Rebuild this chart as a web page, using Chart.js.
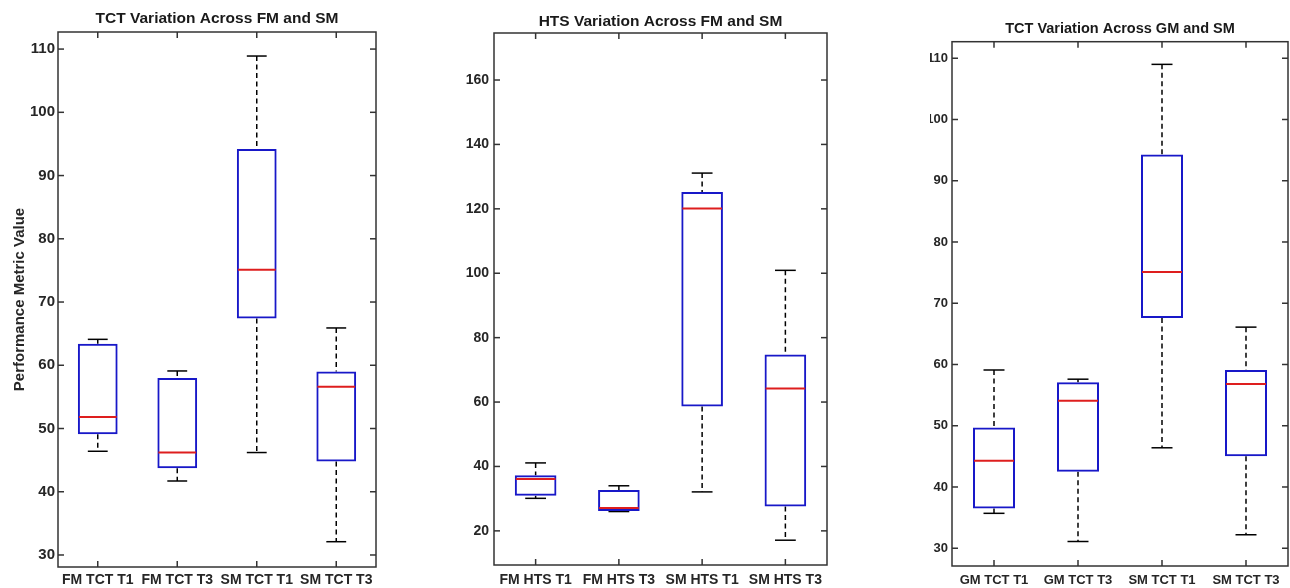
<!DOCTYPE html>
<html>
<head>
<meta charset="utf-8">
<script src="https://cdn.jsdelivr.net/npm/chart.js@4.4.1/dist/chart.umd.min.js"></script>
<style>
  body { margin: 0; background: #fff; width: 1290px; height: 588px; overflow: hidden; position: relative; }
  .panel { position: absolute; top: 0; }
</style>
</head>
<body>
<div class="panel" style="left:0"><canvas id="tctFm" width="386" height="588"></canvas></div>
<div class="panel" style="left:440px"><canvas id="htsFm" width="396" height="588"></canvas></div>
<div class="panel" style="left:930px"><canvas id="tctGm" width="360" height="588"></canvas></div>
<script>
// TCT, FM vs SM
const tctFmLabels = ['FM TCT T1', 'FM TCT T3', 'SM TCT T1', 'SM TCT T3'];
const tctFmMin    = [46.4, 41.7, 46.2, 32.1];
const tctFmQ1     = [49.1, 43.7, 67.4, 44.8];
const tctFmMedian = [51.8, 46.2, 75.1, 56.6];
const tctFmQ3     = [63.4, 58.0, 94.2, 59.0];
const tctFmMax    = [64.1, 59.1, 108.9, 65.9];
const tctFmTicks  = [30, 40, 50, 60, 70, 80, 90, 100, 110];

// HTS, FM vs SM
const htsFmLabels = ['FM HTS T1', 'FM HTS T3', 'SM HTS T1', 'SM HTS T3'];
const htsFmMin    = [30.1, 26.0, 32.1, 17.1];
const htsFmQ1     = [30.9, 26.2, 58.6, 27.6];
const htsFmMedian = [36.1, 27.1, 120.1, 64.2];
const htsFmQ3     = [37.3, 32.7, 125.2, 74.8];
const htsFmMax    = [41.1, 34.0, 131.1, 100.9];
const htsFmTicks  = [20, 40, 60, 80, 100, 120, 140, 160];

// TCT, GM vs SM
const tctGmLabels = ['GM TCT T1', 'GM TCT T3', 'SM TCT T1', 'SM TCT T3'];
const tctGmMin    = [35.7, 31.1, 46.4, 32.2];
const tctGmQ1     = [36.5, 42.5, 67.6, 45.0];
const tctGmMedian = [44.3, 54.1, 75.1, 56.8];
const tctGmQ3     = [49.7, 57.1, 94.3, 59.1];
const tctGmMax    = [59.1, 57.6, 109.0, 66.1];
const tctGmTicks  = [30, 40, 50, 60, 70, 80, 90, 100, 110];

Chart.defaults.font.family = 'Arial, "Liberation Sans", sans-serif';
Chart.defaults.color = '#262626';

function seg(ctx, x1, y1, x2, y2) {
  ctx.beginPath();
  ctx.moveTo(x1, y1);
  ctx.lineTo(x2, y2);
  ctx.stroke();
}

// whiskers, medians and the matlab style frame with inward ticks
function boxPlugin(s) {
  return {
    id: 'boxPlot',
    beforeDatasetsDraw(chart) {
      const { ctx, scales: { x, y } } = chart;
      const bars = chart.getDatasetMeta(0).data;
      ctx.save();
      ctx.strokeStyle = '#000';
      ctx.lineWidth = 1.5;
      s.min.forEach((v, i) => {
        const px = x.getPixelForValue(i);
        const cap = bars[i].width / 4;
        ctx.setLineDash([5, 3.5]);
        seg(ctx, px, y.getPixelForValue(s.max[i]), px, y.getPixelForValue(s.q3[i]));
        seg(ctx, px, y.getPixelForValue(s.q1[i]), px, y.getPixelForValue(v));
        ctx.setLineDash([]);
        seg(ctx, px - cap, y.getPixelForValue(s.max[i]), px + cap, y.getPixelForValue(s.max[i]));
        seg(ctx, px - cap, y.getPixelForValue(v), px + cap, y.getPixelForValue(v));
      });
      ctx.restore();
    },
    afterDatasetsDraw(chart) {
      const { ctx, scales: { x, y } } = chart;
      const bars = chart.getDatasetMeta(0).data;
      ctx.save();
      ctx.strokeStyle = 'rgb(222,30,30)';
      ctx.lineWidth = 2;
      s.median.forEach((v, i) => {
        const px = x.getPixelForValue(i);
        const half = bars[i].width / 2 - 1;
        seg(ctx, px - half, y.getPixelForValue(v), px + half, y.getPixelForValue(v));
      });
      ctx.restore();
    },
    afterDraw(chart) {
      const { ctx, chartArea: a, scales: { x, y } } = chart;
      ctx.save();
      ctx.strokeStyle = '#333';
      ctx.lineWidth = 1.5;
      ctx.strokeRect(a.left, a.top, a.right - a.left, a.bottom - a.top);
      const t = 6;
      y.ticks.forEach(tk => {
        const py = y.getPixelForValue(tk.value);
        seg(ctx, a.left, py, a.left + t, py);
        seg(ctx, a.right - t, py, a.right, py);
      });
      s.min.forEach((v, i) => {
        const px = x.getPixelForValue(i);
        seg(ctx, px, a.bottom, px, a.bottom - t);
        seg(ctx, px, a.top, px, a.top + t);
      });
      ctx.restore();
    }
  };
}

function makeBoxChart(id, p) {
  new Chart(document.getElementById(id), {
    type: 'bar',
    data: {
      labels: p.labels,
      datasets: [{
        data: p.q1.map((v, i) => [v, p.q3[i]]),
        backgroundColor: 'rgba(255,255,255,0)',
        borderColor: 'rgb(24,24,200)',
        borderWidth: 2,
        borderSkipped: false,
        barPercentage: 0.5,
        categoryPercentage: 1
      }]
    },
    options: {
      responsive: false,
      animation: false,
      layout: { padding: { left: 0, right: p.padRight, top: 0, bottom: 0 } },
      plugins: {
        legend: { display: false },
        tooltip: { enabled: false },
        title: {
          display: true,
          text: p.title,
          fullSize: false,
          font: { size: p.titleSize, weight: 'bold' },
          color: '#1a1a1a',
          padding: { top: p.titleTop, bottom: p.titleBottom }
        }
      },
      scales: {
        x: {
          grid: { display: false, drawTicks: false },
          border: { display: false },
          ticks: { font: { size: p.fontSize, weight: 'bold' }, padding: p.xPad, maxRotation: 0 },
          afterFit: sc => { sc.height = p.xHeight; }
        },
        y: {
          min: p.yMin,
          max: p.yMax,
          grid: { display: false, drawTicks: false },
          border: { display: false },
          ticks: { font: { size: p.yFontSize, weight: 'bold' }, padding: p.yPad },
          afterBuildTicks: sc => { sc.ticks = p.ticks.map(v => ({ value: v })); },
          afterFit: sc => { sc.width = p.yWidth; },
          title: {
            display: !!p.yTitle,
            text: p.yTitle || '',
            font: { size: 15, weight: 'bold' },
            padding: { top: 11, bottom: 0 }
          }
        }
      }
    },
    plugins: [boxPlugin(p)]
  });
}

makeBoxChart('tctFm', {
  labels: tctFmLabels, min: tctFmMin, q1: tctFmQ1, median: tctFmMedian, q3: tctFmQ3, max: tctFmMax,
  ticks: tctFmTicks, yMin: 28.1, yMax: 112.7,
  title: 'TCT Variation Across FM and SM', titleSize: 15.5, titleTop: 9.7, titleBottom: 3.7,
  yTitle: 'Performance Metric Value',
  fontSize: 14, yFontSize: 15, xPad: 4.5, xHeight: 21, yWidth: 58, yPad: 3, padRight: 10
});

makeBoxChart('htsFm', {
  labels: htsFmLabels, min: htsFmMin, q1: htsFmQ1, median: htsFmMedian, q3: htsFmQ3, max: htsFmMax,
  ticks: htsFmTicks, yMin: 9.4, yMax: 174.6,
  title: 'HTS Variation Across FM and SM', titleSize: 15.5, titleTop: 12.7, titleBottom: 1.7,
  fontSize: 14, yFontSize: 14, xPad: 6.5, xHeight: 23, yWidth: 54, yPad: 5, padRight: 9
});

makeBoxChart('tctGm', {
  labels: tctGmLabels, min: tctGmMin, q1: tctGmQ1, median: tctGmMedian, q3: tctGmQ3, max: tctGmMax,
  ticks: tctGmTicks, yMin: 27.1, yMax: 112.7,
  title: 'TCT Variation Across GM and SM', titleSize: 14.5, titleTop: 20.3, titleBottom: 4,
  fontSize: 13, yFontSize: 13, xPad: 7, xHeight: 22, yWidth: 22, yPad: 4, padRight: 2
});
</script>
</body>
</html>
